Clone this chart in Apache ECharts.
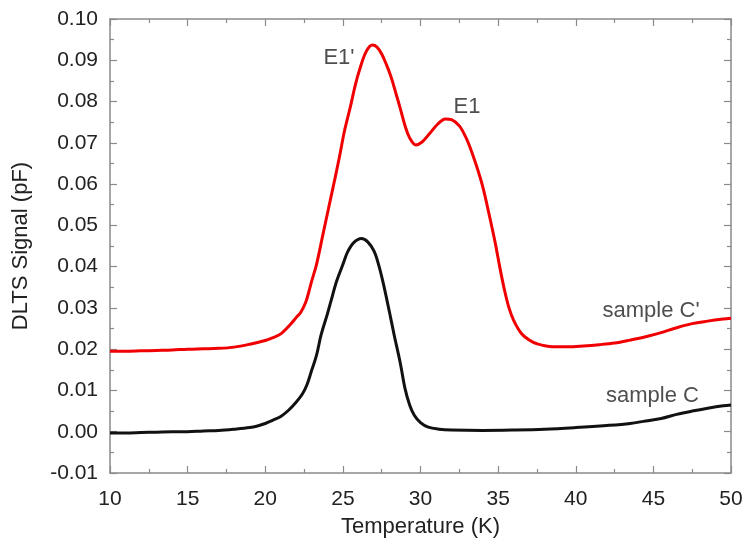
<!DOCTYPE html>
<html>
<head>
<meta charset="utf-8">
<script src="https://cdn.jsdelivr.net/npm/echarts@6/dist/echarts.min.js"></script>
<style>html,body{margin:0;padding:0;background:#fff;}#c{width:746px;height:553px;}</style>
</head>
<body>
<div id="c"></div>
<script>
// Temperature (K) and DLTS signal (pF)
const redT = [10,11,12,13,14,15,16,17,18,19,20,20.5,21,21.6,22.0,22.3,22.6,22.8,23.0,23.3,23.7,24.2,24.5,24.8,25.1,25.5,25.8,26.1,26.5,26.9,27.2,27.5,27.8,28.1,28.4,28.7,29.0,29.3,29.7,30.1,30.6,31.1,31.6,32.0,32.5,32.9,33.2,33.6,34.0,34.4,34.8,35.1,35.4,35.7,36.0,36.5,37.0,37.5,38.5,39.5,40.5,41.5,42.5,43.5,44.5,45.5,46.5,47.5,48.5,49.5,50];
const redV = [0.0195,0.0195,0.0196,0.0197,0.0198,0.0200,0.0201,0.0202,0.0205,0.0212,0.0221,0.0228,0.0237,0.0259,0.0277,0.0290,0.0313,0.0338,0.0366,0.0405,0.0475,0.0563,0.0615,0.0670,0.0728,0.0790,0.0840,0.0880,0.0921,0.0937,0.0932,0.0915,0.0890,0.0860,0.0822,0.0783,0.0742,0.0712,0.0695,0.0702,0.0723,0.0745,0.0758,0.0756,0.0741,0.0715,0.0688,0.0645,0.0595,0.0530,0.0460,0.0400,0.0345,0.0300,0.0270,0.0238,0.0222,0.0213,0.0206,0.0206,0.0208,0.0211,0.0215,0.0222,0.0230,0.0240,0.0252,0.0262,0.0268,0.0273,0.0275];
const blackT = [10,11,12,13,14,15,16,17,18,19,19.5,20,20.5,21,21.5,22,22.4,22.7,23.0,23.3,23.6,24.0,24.2,24.6,25.0,25.3,25.7,26.2,26.6,27.0,27.3,27.6,28.0,28.3,28.7,29.0,29.3,29.6,30.0,30.5,31.2,32,34,36,38,40,42,43.5,44.5,45.5,46.5,47.5,48.5,49.5,50];
const blackV = [-0.0003,-0.0003,-0.0002,-0.0001,0.0000,0.0000,0.0002,0.0003,0.0006,0.0010,0.0014,0.0020,0.0028,0.0037,0.0052,0.0072,0.0092,0.0115,0.0150,0.0185,0.0235,0.0285,0.0312,0.0365,0.0405,0.0435,0.0458,0.0468,0.0460,0.0438,0.0405,0.0360,0.0290,0.0235,0.0166,0.0105,0.0065,0.0040,0.0022,0.0011,0.0006,0.0004,0.0003,0.0004,0.0006,0.0010,0.0015,0.0020,0.0026,0.0032,0.0042,0.0050,0.0057,0.0063,0.0065];
// annotations (text, T, signal)
const noteText = ["E1'", "E1", "sample C'", "sample C"];
const noteT = [24.75, 33.0, 44.85, 44.94];
const noteV = [0.0905, 0.0787, 0.0292, 0.0086];

const xMin = 10, xMax = 50, xStep = 5;
const yMin = -0.01, yMax = 0.10, yStep = 0.01;

const FONT = "Liberation Sans";
const axisColor = '#8a8a8a';
const textColor = '#222';

function zip(a, b) { return a.map((v, i) => [v, b[i]]); }

const baseAxis = {
  axisLine: { show: true, onZero: false, lineStyle: { color: axisColor, width: 1.5 } },
  axisTick: { show: true, inside: true, length: 7, lineStyle: { color: axisColor, width: 1.2 } },
  minorTick: { show: true, splitNumber: 2, length: 4, lineStyle: { color: axisColor, width: 1.2 } },
  splitLine: { show: false },
  minorSplitLine: { show: false }
};

const chart = echarts.init(document.getElementById('c'), null, { renderer: 'canvas' });
chart.setOption({
  animation: false,
  backgroundColor: '#fff',
  grid: { left: 110, right: 15, top: 19, bottom: 80, containLabel: false },
  xAxis: [
    Object.assign({}, baseAxis, {
      type: 'value', min: xMin, max: xMax, interval: xStep, position: 'bottom',
      name: 'Temperature (K)', nameLocation: 'middle', nameGap: 43,
      nameTextStyle: { fontFamily: FONT, fontSize: 22, color: textColor },
      axisLabel: { fontFamily: FONT, fontSize: 21, color: textColor, margin: 16 }
    }),
    Object.assign({}, baseAxis, {
      type: 'value', min: xMin, max: xMax, interval: xStep, position: 'top',
      axisLabel: { show: false }
    })
  ],
  yAxis: [
    Object.assign({}, baseAxis, {
      type: 'value', min: yMin, max: yMax, interval: yStep, position: 'left',
      name: 'DLTS Signal (pF)', nameLocation: 'middle', nameGap: 78,
      nameTextStyle: { fontFamily: FONT, fontSize: 22, color: textColor },
      axisLabel: { fontFamily: FONT, fontSize: 21, color: textColor, margin: 12,
        formatter: v => v.toFixed(2) }
    }),
    Object.assign({}, baseAxis, {
      type: 'value', min: yMin, max: yMax, interval: yStep, position: 'right',
      axisLabel: { show: false }
    })
  ],
  series: [
    {
      type: 'line', data: zip(redT, redV), smooth: 0.35, showSymbol: false,
      lineStyle: { color: '#f00000', width: 3 }, z: 3
    },
    {
      type: 'line', data: zip(blackT, blackV), smooth: 0.35, showSymbol: false,
      lineStyle: { color: '#111', width: 3 }, z: 3
    },
    {
      type: 'scatter', symbolSize: 0,
      data: noteText.map((t, i) => ({ value: [noteT[i], noteV[i]], name: t })),
      label: { show: true, position: 'inside', formatter: p => p.name,
        fontFamily: FONT, fontSize: 22, color: textColor },
      silent: true, z: 5
    }
  ]
});
</script>
</body>
</html>
